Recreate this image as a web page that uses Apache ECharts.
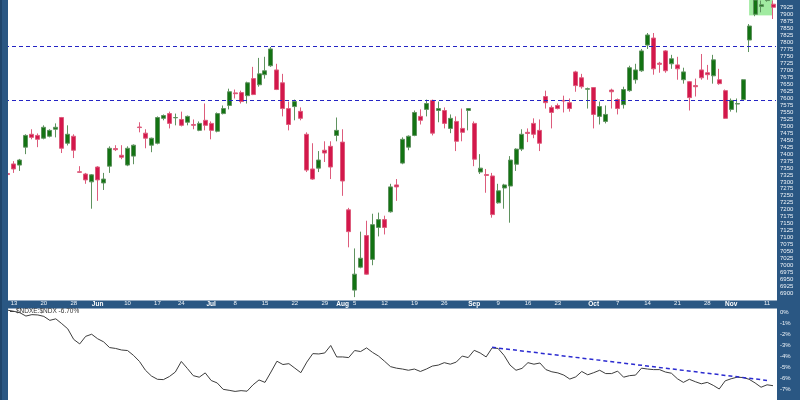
<!DOCTYPE html>
<html><head><meta charset="utf-8">
<script src="https://cdn.jsdelivr.net/npm/echarts@6/dist/echarts.min.js"></script>
<style>html,body{margin:0;padding:0;background:#fff}#c{width:800px;height:400px}</style>
</head><body><div id="c"></div>
<script>
const dates = ['05-10','05-13','05-14','05-15','05-16','05-17','05-20','05-21','05-22','05-23','05-24','05-28','05-29','05-30','05-31',
'06-03','06-04','06-05','06-06','06-07','06-10','06-11','06-12','06-13','06-14','06-17','06-18','06-20','06-21','06-24','06-25','06-26','06-27','06-28',
'07-01','07-02','07-03','07-05','07-08','07-09','07-10','07-11','07-12','07-15','07-16','07-17','07-18','07-19','07-22','07-23','07-24','07-25','07-26','07-29','07-30','07-31',
'08-01','08-02','08-05','08-06','08-07','08-08','08-09','08-12','08-13','08-14','08-15','08-16','08-19','08-20','08-21','08-22','08-23','08-26','08-27','08-28','08-29','08-30',
'09-03','09-04','09-05','09-06','09-09','09-10','09-11','09-12','09-13','09-16','09-17','09-18','09-19','09-20','09-23','09-24','09-25','09-26','09-27','09-30',
'10-01','10-02','10-03','10-04','10-07','10-08','10-09','10-10','10-11','10-14','10-15','10-16','10-17','10-18','10-21','10-22','10-23','10-24','10-25','10-28','10-29','10-30','10-31',
'11-01','11-04','11-05','11-06','11-07','11-08','11-11','11-12'];

const open  = [7330,7364,7360,7424,7470,7466,7456,7463,7488,7530,7438,7463,7336,7328,7300,
7353,7296,7356,7419,7395,7360,7392,7496,7474,7431,7438,7527,7544,7529,7523,7513,7505,7484,7520,
7509,7481,7544,7573,7618,7619,7608,7669,7647,7683,7715,7700,7654,7562,7569,7552,7470,7346,7349,7413,7427,7466,
7442,7200,6913,6995,7108,7023,7137,7165,7193,7289,7367,7424,7466,7534,7559,7591,7555,7555,7491,7516,7491,7555,
7509,7335,7326,7321,7225,7278,7285,7363,7417,7477,7509,7484,7605,7566,7573,7591,7583,7693,7672,7631,
7637,7534,7516,7628,7594,7576,7626,7665,7697,7789,7814,7724,7768,7722,7718,7665,7658,7644,7700,7690,7679,7665,7626,
7559,7578,7594,7807,7899,7927,7948,7935];
const close = [7326,7346,7378,7466,7459,7452,7495,7484,7495,7420,7470,7413,7334,7307,7325,
7307,7310,7420,7415,7388,7420,7431,7494,7456,7456,7530,7537,7509,7530,7502,7534,7502,7509,7502,
7484,7544,7562,7622,7615,7587,7654,7612,7686,7697,7775,7630,7562,7505,7587,7527,7342,7310,7378,7403,7353,7484,
7303,7122,6970,7027,6970,7147,7165,7137,7282,7282,7452,7463,7548,7520,7580,7474,7562,7509,7527,7445,7477,7562,
7381,7349,7323,7183,7268,7289,7378,7417,7470,7473,7470,7438,7583,7548,7562,7589,7562,7644,7640,7633,
7541,7569,7541,7622,7562,7630,7708,7700,7768,7825,7704,7720,7697,7740,7704,7693,7601,7640,7672,7683,7736,7651,7527,
7591,7580,7665,7857,7950,7933,7956,7924];
const low   = [7320,7332,7339,7399,7452,7424,7452,7459,7459,7403,7430,7385,7332,7293,7204,
7232,7271,7332,7410,7381,7356,7363,7477,7420,7406,7434,7520,7491,7502,7498,7502,7488,7481,7484,
7452,7477,7541,7559,7598,7580,7580,7610,7640,7669,7711,7628,7534,7484,7520,7520,7335,7307,7335,7371,7310,7445,
7250,7066,6888,6991,6968,7002,7105,7112,7190,7232,7363,7413,7463,7505,7534,7466,7513,7491,7474,7410,7445,7484,
7356,7328,7261,7172,7222,7204,7154,7339,7410,7442,7456,7410,7562,7491,7559,7548,7551,7622,7633,7562,
7491,7505,7509,7562,7541,7562,7622,7651,7693,7775,7683,7690,7690,7704,7665,7651,7555,7605,7665,7665,7651,7647,7525,
7551,7548,7590,7764,7892,7906,7944,7882];
const high  = [7336,7374,7382,7470,7488,7473,7502,7488,7509,7532,7502,7470,7356,7332,7328,
7356,7332,7427,7431,7431,7427,7434,7513,7488,7458,7534,7541,7551,7544,7551,7537,7523,7516,7580,
7516,7548,7573,7633,7630,7626,7658,7711,7743,7747,7782,7722,7686,7587,7594,7566,7477,7438,7410,7445,7445,7530,
7488,7207,7062,7122,7161,7186,7190,7179,7293,7310,7459,7466,7555,7559,7594,7594,7587,7566,7541,7534,7562,7563,
7516,7399,7346,7332,7293,7293,7392,7420,7488,7491,7527,7523,7626,7573,7580,7608,7598,7697,7686,7637,
7639,7587,7573,7633,7598,7640,7715,7722,7775,7832,7832,7729,7771,7754,7747,7708,7660,7669,7757,7718,7754,7704,7630,
7598,7598,7667,7864,7955,7948,7965,7948];

const ratio = [0.15,0.05,-0.08,-0.38,-0.25,-0.28,-0.41,-0.77,-0.63,-1.07,-1.54,-2.50,-2.91,-2.22,-2.03,
-2.44,-2.72,-3.24,-3.32,-3.46,-3.51,-3.95,-4.50,-5.30,-5.82,-6.12,-6.15,-5.87,-5.46,-4.50,-5.13,-5.79,-5.93,-5.54,
-6.23,-6.45,-7.03,-7.12,-7.22,-7.15,-7.20,-6.62,-6.18,-6.40,-5.46,-4.48,-4.78,-4.70,-5.11,-5.52,-4.56,-3.79,-3.82,-3.73,-3.05,-4.09,
-4.09,-4.15,-3.51,-3.60,-3.27,-3.68,-4.01,-4.48,-4.97,-5.11,-5.19,-5.30,-5.19,-5.41,-5.19,-4.92,-4.83,-4.61,-4.75,-4.56,-4.01,-4.15,
-3.49,-3.73,-4.09,-3.27,-3.32,-3.95,-4.83,-5.30,-5.13,-4.61,-4.75,-4.64,-5.24,-5.44,-5.54,-5.74,-6.10,-5.90,-5.41,-5.71,
-5.52,-5.30,-5.60,-5.60,-5.38,-5.93,-5.79,-5.74,-5.11,-5.19,-5.24,-5.24,-5.46,-5.57,-6.07,-6.40,-6.12,-6.34,-6.53,-6.40,-6.67,-7.00,-6.26,
-6.07,-5.93,-5.96,-6.12,-6.45,-6.84,-6.62,-6.70];

const tickDates  = ['05-13','05-20','05-28','06-03','06-10','06-17','06-24','07-01','07-08','07-15','07-22','07-29','08-01','08-05','08-12','08-19','08-26','09-03','09-09','09-16','09-23','10-01','10-07','10-14','10-21','10-28','11-01','11-11'];
const tickLabels = ['13','20','28','Jun','10','17','24','Jul','8','15','22','29','Aug','5','12','19','26','Sep','9','16','23','Oct','7','14','21','28','Nov','11'];
const monthLabels = ['Jun','Jul','Aug','Sep','Oct','Nov'];

const levelLines = [7783, 7592];
const trendFrom = ['09-06', -3.22];
const trendTo   = ['11-11', -6.22];
const boxFrom = ['11-06', 7895];
const boxTo   = ['11-12', 7950];
const ratioName = '$NDXE:$NDX';

const FRAME = '#2a5783';
const LBL = '#eef3f8';
const FONT = '"Liberation Sans", Arial, sans-serif';
const lastRatio = ratio[ratio.length - 1];

const chart = echarts.init(document.getElementById('c'), null, {renderer: 'canvas'});
const candles = dates.map((d, i) => [open[i], close[i], low[i], high[i]]);

chart.setOption({
  animation: false,
  backgroundColor: '#ffffff',
  textStyle: {fontFamily: FONT},
  grid: [
    {left: 5, width: 771, top: -2.35, height: 303.1},
    {left: 5, width: 771, top: 300.86, height: 109.26}
  ],
  xAxis: [
    {type: 'category', data: dates, gridIndex: 0, boundaryGap: true, z: 20,
     axisLine: {show: false}, axisTick: {show: false}, splitLine: {show: false},
     axisLabel: {
       interval: (idx, val) => tickDates.indexOf(val) >= 0,
       formatter: (val) => {
         const k = tickDates.indexOf(val);
         if (k < 0) return '';
         const t = tickLabels[k];
         return monthLabels.indexOf(t) >= 0 ? '{b|' + t + '}' : t;
       },
       margin: 0, fontSize: 6, color: LBL, fontFamily: FONT,
       rich: {b: {fontWeight: 'bold', fontSize: 6.5, color: '#ffffff', fontFamily: FONT}}
     }},
    {type: 'category', data: dates, gridIndex: 1, boundaryGap: true, show: false}
  ],
  yAxis: [
    {type: 'value', gridIndex: 0, position: 'right', min: 6875, max: 7950, interval: 25, z: 20,
     splitLine: {show: false}, axisLine: {show: false}, axisTick: {show: false},
     axisLabel: {showMinLabel: false, showMaxLabel: false, margin: 4, fontSize: 6, color: LBL,
                 fontFamily: FONT, formatter: v => String(v)}},
    {type: 'value', gridIndex: 1, position: 'right', min: -8, max: 1, interval: 1, z: 20,
     splitLine: {show: false}, axisLine: {show: false}, axisTick: {show: false},
     axisLabel: {showMinLabel: false, showMaxLabel: false, margin: 4, fontSize: 6, color: LBL,
                 fontFamily: FONT, formatter: v => v + '%'}}
  ],
  series: [
    {type: 'candlestick', xAxisIndex: 0, yAxisIndex: 0, data: candles, barWidth: 4.5,
     itemStyle: {color: '#137313', color0: '#d3174b', borderColor: '#5f925f', borderColor0: '#dd5c7c', borderWidth: 1},
     markArea: {silent: true, itemStyle: {color: 'rgba(130,228,130,0.75)'},
       data: [[{xAxis: boxFrom[0], yAxis: boxFrom[1]}, {xAxis: boxTo[0], yAxis: boxTo[1]}]]},
     markLine: {silent: true, symbol: ['none', 'none'], label: {show: false},
       lineStyle: {color: '#2424c4', type: [4, 3], width: 1},
       data: levelLines.map(v => ({yAxis: v}))}
    },
    {type: 'line', xAxisIndex: 1, yAxisIndex: 1, data: ratio, symbol: 'none', smooth: false,
     lineStyle: {color: '#3d3d3d', width: 1},
     markLine: {silent: true, symbol: ['none', 'none'], label: {show: false},
       lineStyle: {color: '#2b2bd0', type: [4, 3], width: 1.5},
       data: [[{coord: trendFrom}, {coord: trendTo}]]}
    }
  ],
  graphic: [
    {type: 'rect', shape: {x: 0, y: 0, width: 8, height: 400}, style: {fill: FRAME}, z: 10},
    {type: 'rect', shape: {x: 0, y: 0, width: 2, height: 400}, style: {fill: '#1f456b'}, z: 10},
    {type: 'rect', shape: {x: 777, y: 0, width: 23, height: 400}, style: {fill: FRAME}, z: 10},
    {type: 'rect', shape: {x: 8, y: 300.5, width: 770, height: 8}, style: {fill: FRAME}, z: 10},
    {type: 'line', shape: {x1: 10, y1: 311.5, x2: 14, y2: 311.5}, style: {stroke: '#3d3d3d', lineWidth: 1}, z: 12},
    {type: 'text', x: 16, y: 308, z: 12,
     style: {text: ratioName + ' ' + lastRatio.toFixed(2) + '%', fill: '#333', fontSize: 6.5, fontFamily: FONT}}
  ]
});
</script>
</body></html>
